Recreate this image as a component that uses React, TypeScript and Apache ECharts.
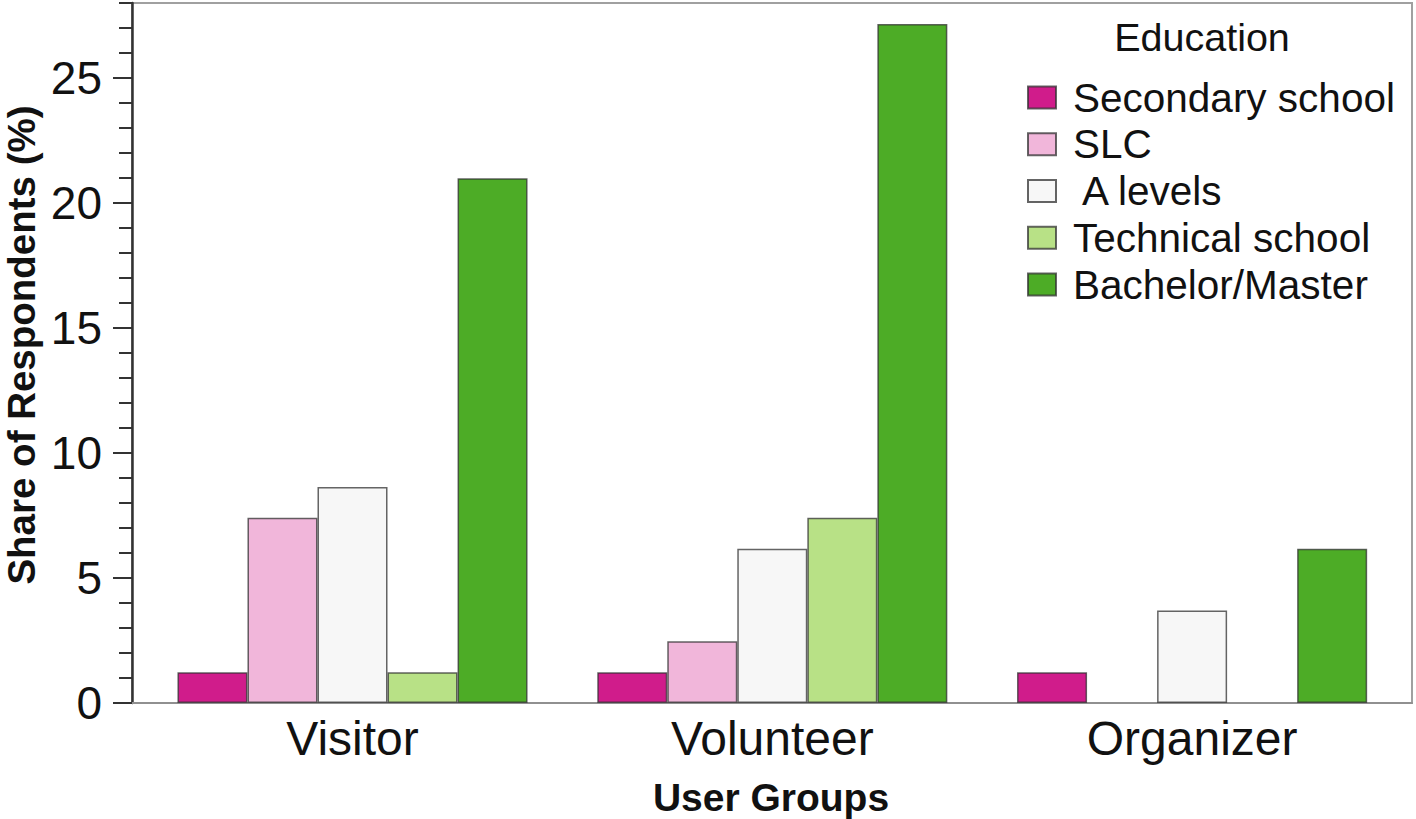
import React, { useEffect, useRef } from "react";
import * as echarts from "echarts";

const categories = ["Visitor", "Volunteer", "Organizer"];
const seriesNames = ["Secondary school", "SLC", " A levels", "Technical school", "Bachelor/Master"];
const secondarySchool = [1.23, 1.23, 1.23];
const slc = [7.41, 2.47, null];
const aLevels = [8.64, 6.17, 3.7];
const technicalSchool = [1.23, 7.41, null];
const bachelorMaster = [20.99, 27.16, 6.17];
const seriesValues = [secondarySchool, slc, aLevels, technicalSchool, bachelorMaster];
const colors = ["#d01c8b", "#f1b6da", "#f7f7f7", "#b8e186", "#4dac26"];
const majorTicks = [0, 5, 10, 15, 20, 25];
const yMax = 28;

const FONT = "'Liberation Sans', Arial, sans-serif";

export default function App() {
  const ref = useRef<HTMLDivElement>(null);
  useEffect(() => {
    if (!ref.current) return;
    const chart = echarts.init(ref.current, null, { renderer: "svg" });
    const option: any = {
      animation: false,
      backgroundColor: "#ffffff",
      textStyle: { fontFamily: FONT },
      grid: [
        { left: 132, right: 4, top: 3, bottom: 116, show: true, borderColor: "#a0a0a0", borderWidth: 2, backgroundColor: "transparent" },
        { left: 142.6, right: 14, top: 3, bottom: 116 },
      ],
      xAxis: [
        {
          type: "category",
          gridIndex: 0,
          data: categories,
          axisLine: { show: true, lineStyle: { color: "#909090", width: 2 } },
          axisTick: { show: false },
          axisLabel: { show: false },
        },
        {
          type: "category",
          gridIndex: 1,
          data: categories,
          axisLine: { show: false },
          axisTick: { show: false },
          axisLabel: { fontSize: 48, color: "#111", fontFamily: FONT, margin: 11 },
        },
      ],
      yAxis: [
        {
          type: "value",
          gridIndex: 0,
          position: "left",
          min: 0,
          max: yMax,
          interval: 1,
          splitLine: { show: false },
          axisLine: { show: true, lineStyle: { color: "#333", width: 2.5 } },
          axisTick: { show: true, length: 13, lineStyle: { color: "#333", width: 2 } },
          axisLabel: { show: false },
        },
        {
          type: "value",
          gridIndex: 0,
          position: "left",
          offset: 0,
          min: 0,
          max: yMax,
          interval: 5,
          splitLine: { show: false },
          axisLine: { show: false },
          axisTick: { show: true, length: 19, customValues: majorTicks, lineStyle: { color: "#333", width: 2 } },
          axisLabel: { show: true, customValues: majorTicks, fontSize: 46, color: "#111", fontFamily: FONT, margin: 30 },
        },
        {
          type: "value",
          gridIndex: 1,
          min: 0,
          max: yMax,
          show: false,
          splitLine: { show: false },
        },
      ],
      legend: {
        orient: "vertical",
        left: 1022,
        top: 72,
        itemWidth: 28,
        itemHeight: 22,
        itemGap: 5.75,
        icon: "rect",
        data: seriesNames,
        textStyle: { fontSize: 40.5, color: "#111", fontFamily: FONT, lineHeight: 40, padding: [0, 0, 0, 12] },
      },
      graphic: [
        {
          type: "text",
          x: 1202,
          y: 37,
          style: { text: "Education", fontSize: 39.5, fontFamily: FONT, fill: "#111", textAlign: "center", textVerticalAlign: "middle" },
        },
        {
          type: "text",
          x: 21,
          y: 345,
          rotation: Math.PI / 2,
          style: { text: "Share of Respondents (%)", fontSize: 38.5, fontWeight: "bold", fontFamily: FONT, fill: "#111", textAlign: "center", textVerticalAlign: "middle" },
        },
        {
          type: "text",
          x: 771,
          y: 797,
          style: { text: "User Groups", fontSize: 39, fontWeight: "bold", fontFamily: FONT, fill: "#111", textAlign: "center", textVerticalAlign: "middle" },
        },
      ],
      series: seriesNames.map((name, i) => ({
        name,
        type: "bar",
        xAxisIndex: 1,
        yAxisIndex: 2,
        data: seriesValues[i],
        barGap: "0%",
        barCategoryGap: "16.6%",
        itemStyle: { color: colors[i], borderColor: "rgba(50,50,50,0.75)", borderWidth: 1.5 },
      })),
    };
    chart.setOption(option);
    return () => chart.dispose();
  }, []);
  return <div ref={ref} style={{ width: 1416, height: 819, position: "absolute", left: 0, top: 0 }} />;
}
